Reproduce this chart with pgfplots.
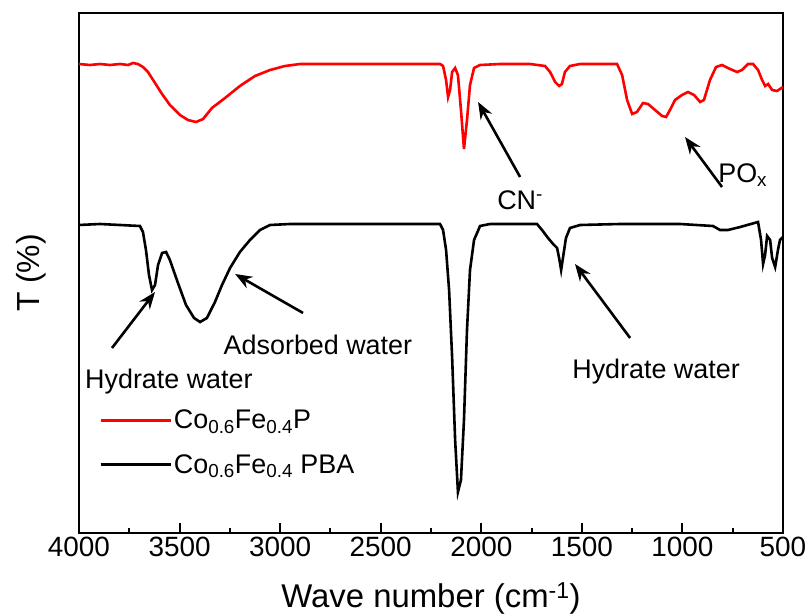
\documentclass[border=0pt]{standalone}
\usepackage{pgfplots}
\pgfplotsset{compat=1.18}
\usepackage{pgfplotstable}
\usepackage{fontspec}
\setmainfont{Liberation Sans}
\usetikzlibrary{arrows.meta}

% FTIR spectra: wavenumber (cm^-1) vs. transmittance (offset, arbitrary units)
\pgfplotstableread{
w T
4000 469
3945 468
3896 469
3846 468
3796 469
3756 468
3731 470
3707 469
3682 466
3657 461
3622 450
3587 439
3548 428
3498 418
3458 413
3418 411
3383 414
3339 425
3274 435
3200 447
3125 457
3050 463
2976 467
2901 469
2653 469
2404 469
2205 469
2190 467
2175 453
2165 436
2155 443
2145 461
2130 465
2116 458
2101 423
2086 384
2071 413
2056 448
2036 465
2006 468
1907 469
1758 469
1683 467
1658 461
1633 451
1613 447
1599 449
1584 461
1559 467
1509 469
1410 469
1325 469
1300 458
1275 433
1250 419
1226 421
1196 430
1171 429
1136 423
1101 417
1081 416
1062 423
1037 433
1002 438
972 441
942 438
912 431
893 433
863 453
833 466
803 468
763 464
728 461
704 463
674 469
649 469
624 463
604 453
589 447
574 449
554 443
530 442
500 446
}\phosphide

\pgfplotstableread{
w T
4000 308
3896 309
3796 308
3697 307
3682 301
3667 283
3652 258
3637 243
3622 248
3607 268
3587 280
3567 281
3548 273
3508 250
3468 228
3428 215
3398 211
3364 215
3324 231
3289 248
3249 265
3200 281
3150 293
3100 303
3050 308
2951 309
2653 309
2404 309
2205 309
2190 303
2175 283
2160 243
2145 176
2130 93
2116 41
2101 53
2086 113
2071 203
2056 263
2036 293
2006 307
1956 309
1807 309
1723 309
1698 303
1668 295
1643 289
1623 285
1613 275
1603 263
1594 275
1579 295
1559 305
1509 308
1310 309
1012 309
848 307
813 303
773 303
713 306
624 311
609 293
599 269
589 278
579 297
564 293
554 275
539 266
525 283
515 293
500 296
}\pba

\begin{document}
\begin{tikzpicture}
\path[use as bounding box] (-79bp,-83bp) rectangle (732bp,533bp);
\begin{axis}[
  scale only axis,
  width=704bp, height=520bp,
  x dir=reverse,
  xmin=500, xmax=4000,
  ymin=0, ymax=520,
  xtick={500,1000,...,4000},
  minor x tick num=1,
  ytick=\empty,
  xtick pos=bottom,
  tick align=inside,
  major tick length=10bp,
  minor tick length=5bp,
  every tick/.style={black, line width=2bp},
  axis line style={line width=2.6bp},
  /pgf/number format/assume math mode=true,
  /pgf/number format/set thousands separator={},
  tick label style={font=\fontsize{28}{32}\selectfont},
  xticklabel style={yshift=-1bp},
  xlabel={Wave number (cm\textsuperscript{-1})},
  ylabel={T (\%)},
  every axis x label/.style={at={(axis description cs:0.5,-0.125)}, anchor=center, font=\fontsize{33}{38}\selectfont},
  every axis y label/.style={at={(axis description cs:-0.068,0.5)}, anchor=center, rotate=90, font=\fontsize{32}{36}\selectfont},
  legend style={at={(axis cs:3900,125)}, anchor=north west, draw=none, fill=none,
    font=\fontsize{27}{32}\selectfont, row sep=20bp, inner sep=0pt},
  legend cell align=left,
  legend image code/.code={\draw[#1] (0bp,0bp) -- (64bp,0bp); \path (0bp,0bp) -- (70bp,0bp);},
]
\addplot[red, line width=2.6bp] table[x=w, y=T] {\phosphide};
\addlegendentry{Co\textsubscript{0.6}Fe\textsubscript{0.4}P}
\addplot[black, line width=2.6bp] table[x=w, y=T] {\pba};
\addlegendentry{Co\textsubscript{0.6}Fe\textsubscript{0.4} PBA}

% peak assignments
\begin{scope}[font=\fontsize{27}{32}\selectfont]
\node at (axis cs:1807,333) {CN\textsuperscript{-}};
\node at (axis cs:700,358) {PO\textsubscript{x}};
\node at (axis cs:2812,188) {Adsorbed water};
\node at (axis cs:3553,151) {Hydrate water};
\node at (axis cs:1131,161) {Hydrate water};
\end{scope}
\begin{scope}[line width=2.6bp, -{Stealth[length=17bp, width=13bp]}]
\draw (axis cs:1807,356) -- (axis cs:2016,431);
\draw (axis cs:803,346) -- (axis cs:987,396);
\draw (axis cs:2886,220) -- (axis cs:3224,259);
\draw (axis cs:3836,185) -- (axis cs:3622,241);
\draw (axis cs:1260,195) -- (axis cs:1534,269);
\end{scope}
\end{axis}
\end{tikzpicture}
\end{document}
